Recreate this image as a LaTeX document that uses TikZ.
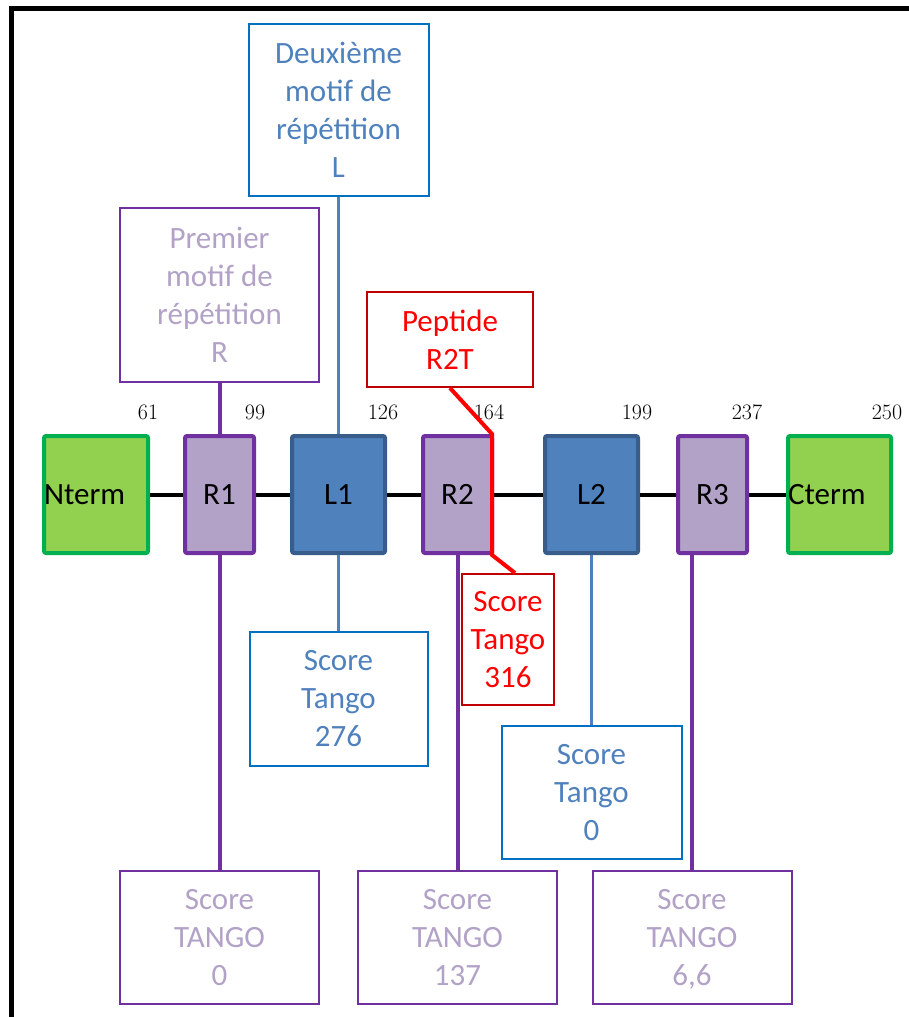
\documentclass[tikz,border=0pt]{standalone}
\usepackage{fontspec}
\newfontfamily\calibri{Carlito}
\usetikzlibrary{positioning}
\definecolor{termFill}{HTML}{92D050}
\definecolor{termBorder}{HTML}{00B050}
\definecolor{repFill}{HTML}{B3A2C7}
\definecolor{repBorder}{HTML}{7030A0}
\definecolor{linkFill}{HTML}{4F81BD}
\definecolor{linkBorder}{HTML}{385D8A}
\definecolor{noteBlue}{HTML}{0070C0}
\definecolor{noteBlueText}{HTML}{4F81BD}
\definecolor{pepBorder}{HTML}{C00000}
\definecolor{pepRed}{HTML}{FF0000}

\begin{document}
\begin{tikzpicture}[
    x=1pt, y=1pt,
    font=\calibri\fontsize{31}{38}\selectfont,
    dombox/.style={
        line width=4pt, rounded corners=2pt,
        minimum height=117pt, inner sep=0pt, align=center
    },
    termbox/.style={
        dombox, draw=termBorder, fill=termFill,
        text width=104pt, align=left
    },
    repbox/.style={dombox, draw=repBorder, fill=repFill, minimum width=69pt},
    linkbox/.style={dombox, draw=linkBorder, fill=linkFill, minimum width=93pt},
    notebox/.style={line width=2pt, fill=white, align=center, inner sep=0pt},
    bluenote/.style={notebox, draw=noteBlue, text=noteBlueText},
    purplenote/.style={notebox, draw=repBorder, text=repFill},
    rednote/.style={notebox, draw=pepBorder, text=pepRed},
    tangobox/.style={purplenote, minimum width=199pt, minimum height=133pt},
    numlabel/.style={font=\rmfamily\fontsize{22}{26}\selectfont, inner sep=0pt},
    backbone/.style={line width=4pt, black},
    bluelink/.style={line width=3pt, noteBlueText},
    purplelink/.style={line width=4pt, repBorder},
    redlink/.style={line width=4pt, pepRed},
]
\useasboundingbox (0,0) rectangle (909,-1017);

% frame
\draw[line width=5pt] (11,-1020) -- (11,-8) -- (912,-8);

% ============================================================
%  PROTEIN DOMAINS
% ============================================================
\node[termbox] (nterm) at (96,-494.5) {Nterm};
\node[repbox, right=33pt of nterm] (r1) {R1};
\node[linkbox, right=34pt of r1] (l1) {L1};
\node[repbox, right=34pt of l1] (r2) {R2};
\node[linkbox, right=49pt of r2] (l2) {L2};
\node[repbox, right=36pt of l2] (r3) {R3};
\node[termbox, right=37pt of r3, text width=103pt] (cterm) {Cterm};

\draw[backbone] (nterm) -- (r1);
\draw[backbone] (r1) -- (l1);
\draw[backbone] (l1) -- (r2);
\draw[backbone] (r2) -- (l2);
\draw[backbone] (l2) -- (r3);
\draw[backbone] (r3) -- (cterm);

% residue positions
\node[numlabel] (pos61) at ([xshift=-2pt, yshift=22pt]nterm.north east) {61};
\node[numlabel] (pos99) at ([xshift=-1pt, yshift=22pt]r1.north east) {99};
\node[numlabel] (pos126) at ([xshift=-4pt, yshift=22pt]l1.north east) {126};
\node[numlabel] (pos164) at ([xshift=-5pt, yshift=22pt]r2.north east) {164};
\node[numlabel] (pos199) at ([xshift=-3pt, yshift=22pt]l2.north east) {199};
\node[numlabel] (pos237) at ([xshift=-2pt, yshift=22pt]r3.north east) {237};
\node[numlabel] (pos250) at ([xshift=-6pt, yshift=22pt]cterm.north east) {250};

% ============================================================
%  MOTIFS (above)
% ============================================================
\node[bluenote, minimum width=180pt, minimum height=172pt,
      above=237pt of l1] (motifL)
    {Deuxième\\motif de\\répétition\\L};
\node[purplenote, minimum width=199pt, minimum height=174pt,
      above=51pt of r1] (motifR)
    {Premier\\motif de\\répétition\\R};
\node[rednote, minimum width=166pt, minimum height=95pt,
      above=46pt of r2, xshift=-7.5pt] (peptide)
    {Peptide\\R2T};

\draw[bluelink] (motifL) -- (l1);
\draw[purplelink] (motifR) -- (r1);

% ============================================================
%  TANGO SCORES (below)
% ============================================================
\node[bluenote, minimum width=178pt, minimum height=134pt,
      below=76pt of l1] (scoreL1)
    {Score\\Tango\\276};
\node[rednote, minimum width=92pt, minimum height=131pt,
      below=18pt of r2, xshift=50.5pt] (scoreR2T)
    {Score\\Tango\\316};
\node[bluenote, minimum width=180pt, minimum height=133pt,
      below=170pt of l2] (scoreL2)
    {Score\\Tango\\0};

\node[tangobox, below=315pt of r1] (tangoR1) {Score\\TANGO\\0};
\node[tangobox, below=315pt of r2] (tangoR2) {Score\\TANGO\\137};
\node[tangobox, below=315pt of r3, xshift=-20.5pt] (tangoR3) {Score\\TANGO\\\smash{6,6}};

\draw[bluelink] (l1) -- (scoreL1);
\draw[bluelink] (l2) -- (scoreL2);
\draw[purplelink] (r1) -- (tangoR1);
\draw[purplelink] (r2) -- (tangoR2);
\draw[purplelink] (r3.south -| tangoR3.north) -- (tangoR3.north);

% peptide R2T
\draw[redlink] (peptide.south) -- ([xshift=-2pt]r2.north east)
    -- ([xshift=-2pt]r2.south east) -- ([xshift=7pt]scoreR2T.north);

\end{tikzpicture}
\end{document}
